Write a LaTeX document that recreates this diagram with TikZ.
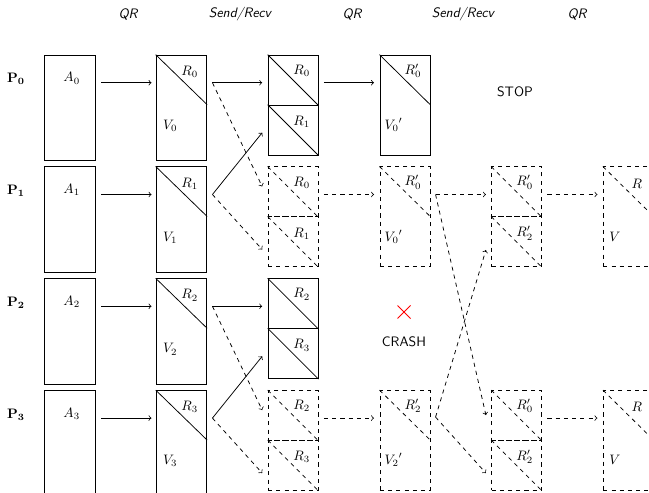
\documentclass[tikz,border=0pt]{standalone}
\usetikzlibrary{calc}
\begin{document}
\begin{tikzpicture}[x=0.73pt,y=-0.73pt,line width=0.55pt,
  bigbox/.style={draw,rectangle,inner sep=0pt,minimum width=37pt,minimum height=77.2pt,anchor=north west},
  halfbox/.style={draw,rectangle,inner sep=0pt,minimum width=36.5pt,minimum height=36.5pt,anchor=north west},
  tallbox/.style={draw,rectangle,inner sep=0pt,minimum width=36.5pt,minimum height=73pt,anchor=north west},
  lbl/.style={inner sep=0pt},
  hdr/.style={inner sep=0pt,font=\sffamily\itshape},
  conn/.style={->}]
\useasboundingbox (0,0) rectangle (649,493);

% headers
\node[hdr] (h1) at (128,14) {QR};
\node[hdr] (h2) at (240,14) {Send/Recv};
\node[hdr] (h3) at (352,14) {QR};
\node[hdr] (h4) at (463,14) {Send/Recv};
\node[hdr] (h5) at (577,14) {QR};

% columns A and V
\foreach \i/\y in {0/54.7,1/166.5,2/278.3,3/390.1} {
  \node[lbl] (P\i) at (16,\y+24.5) {$\mathbf{P_\i}$};
  \node[bigbox] (A\i) at (44.3,\y) {};
  \node[lbl] (lA\i) at ($(A\i.north west)+(27.4,23.6)$) {$A_\i$};
  \node[bigbox] (V\i) at (155.7,\y) {};
  \draw (V\i.north west) -- ($(V\i.north east)+(0,50)$);
  \node[lbl] (lR\i) at ($(V\i.north west)+(34,17)$) {$R_\i$};
  \node[lbl] (lV\i) at ($(V\i.north west)+(14.5,71)$) {$V_\i$};
  \draw[conn] ($(A\i.north east)+(5.3,28)$) -- ($(V\i.north west)+(-4.2,28)$);
}

% column 3
\foreach \i/\y/\s/\a/\b in {0/54.7/solid/0/1,1/166.5/dashed/0/1,2/278.3/solid/2/3,3/390.1/dashed/2/3} {
  \node[halfbox,\s] (T\i) at (267.7,\y) {};
  \node[halfbox,\s] (B\i) at (267.7,\y+50) {};
  \draw[\s] (T\i.north west) -- (T\i.south east);
  \draw[\s] (B\i.north west) -- (B\i.south east);
  \node[lbl] (lT\i) at ($(T\i.north west)+(34,16)$) {$R_\a$};
  \node[lbl] (lB\i) at ($(B\i.north west)+(34,17)$) {$R_\b$};
}

% V -> column 3
\foreach \u/\l in {0/1,2/3} {
  \draw[conn] ($(V\u.north east)+(5.3,28)$) -- ($(T\u.north west)+(-5.5,28)$);
  \draw[conn,dashed] ($(V\u.north east)+(5.3,28)$) -- ($(T\l.north west)+(-5.5,20)$);
  \draw[conn] ($(V\l.north east)+(5.3,28)$) -- ($(B\u.north west)+(-5.5,28)$);
  \draw[conn,dashed] ($(V\l.north east)+(5.3,28)$) -- ($(B\l.north west)+(-5.5,33)$);
}

% column 4
\node[tallbox] (F0) at (379.5,54.7) {};
\draw (F0.north west) -- ($(F0.north east)+(0,50)$);
\node[lbl] (lF0r) at ($(F0.north west)+(33.5,16)$) {$R_0'$};
\node[lbl] (lF0v) at ($(F0.north west)+(14,70)$) {${V_0}'$};

\node[tallbox,dashed] (F1) at (379.5,166.5) {};
\draw[dashed] (F1.north west) -- ($(F1.north east)+(0,50)$);
\node[lbl] (lF1r) at ($(F1.north west)+(33.5,16)$) {$R_0'$};
\node[lbl] (lF1v) at ($(F1.north west)+(14,70)$) {${V_0}'$};

\node[tallbox,dashed] (F3) at (379.5,390.1) {};
\draw[dashed] (F3.north west) -- ($(F3.north east)+(0,50)$);
\node[lbl] (lF3r) at ($(F3.north west)+(33.5,16)$) {$R_2'$};
\node[lbl] (lF3v) at ($(F3.north west)+(14,70)$) {${V_2}'$};

\draw[conn] ($(T0.north east)+(5.5,28)$) -- ($(F0.north west)+(-5.5,28)$);
\draw[conn,dashed] ($(T1.north east)+(5.5,28)$) -- ($(F1.north west)+(-5.5,28)$);
\draw[conn,dashed] ($(T3.north east)+(5.5,28)$) -- ($(F3.north west)+(-5.5,28)$);

\node[font=\sffamily] (stop) at (515,92) {STOP};
\coordinate (X) at (404,312);
\draw[red,line width=0.6pt] ($(X)+(-6.5,-6.5)$) -- ($(X)+(6.5,6.5)$);
\draw[red,line width=0.6pt] ($(X)+(-6.5,6.5)$) -- ($(X)+(6.5,-6.5)$);
\node[font=\sffamily] (crash) at (404,342) {CRASH};

% column 5
\foreach \i/\y in {1/166.5,3/390.1} {
  \node[halfbox,dashed] (G\i t) at (491.2,\y) {};
  \node[halfbox,dashed] (G\i b) at (491.2,\y+50) {};
  \draw[dashed] (G\i t.north west) -- (G\i t.south east);
  \draw[dashed] (G\i b.north west) -- (G\i b.south east);
  \node[lbl] (lG\i t) at ($(G\i t.north west)+(33.5,16)$) {$R_0'$};
  \node[lbl] (lG\i b) at ($(G\i b.north west)+(33.5,17)$) {$R_2'$};
  % column 6
  \node[tallbox,dashed] (H\i) at (602.9,\y) {};
  \draw[dashed] (H\i.north west) -- ($(H\i.north east)+(0,50)$);
  \node[lbl] (lH\i r) at ($(H\i.north west)+(34,17)$) {$R$};
  \node[lbl] (lH\i v) at ($(H\i.north west)+(12,70)$) {$V$};
  \draw[conn,dashed] ($(G\i t.north east)+(5.5,28)$) -- ($(H\i.north west)+(-5.5,28)$);
}

% column 4 -> column 5
\draw[conn,dashed] ($(F1.north east)+(5.3,28)$) -- ($(G1t.north west)+(-5.3,28)$);
\draw[conn,dashed] ($(F1.north east)+(5.3,28)$) -- ($(G3t.north west)+(-5.3,25)$);
\draw[conn,dashed] ($(F3.north east)+(5.3,27)$) -- ($(G1b.north west)+(-5.3,33.5)$);
\draw[conn,dashed] ($(F3.north east)+(5.3,27)$) -- ($(G3b.north west)+(-5.3,33)$);
\end{tikzpicture}
\end{document}
